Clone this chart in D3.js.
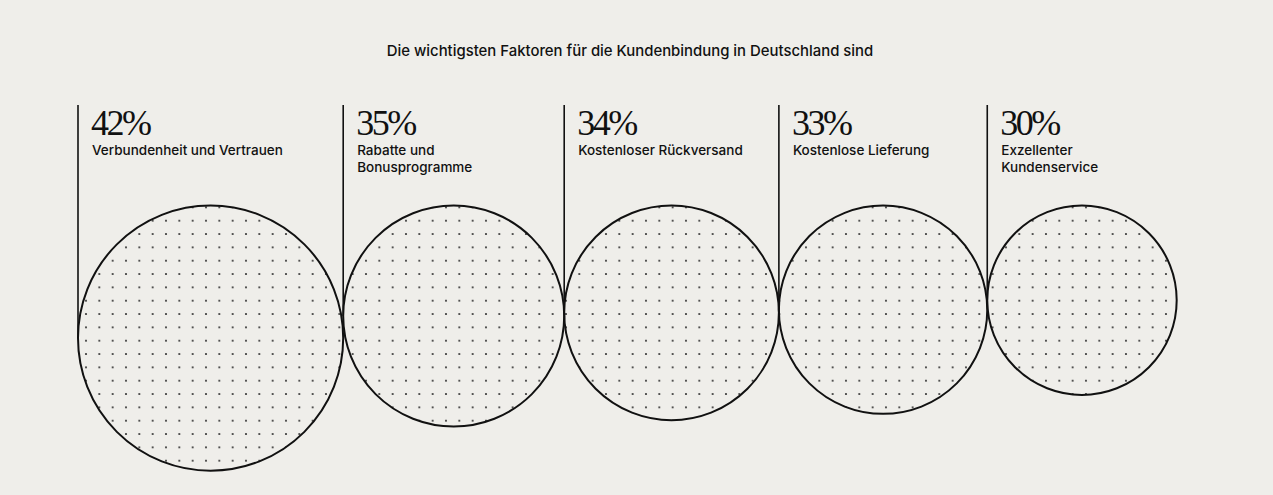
<!DOCTYPE html>
<html>
<head>
<meta charset="utf-8">
<script src="https://cdn.jsdelivr.net/npm/d3@7"></script>
<style>
  html, body { margin: 0; padding: 0; background: #efeeea; }
  svg { display: block; }
</style>
</head>
<body>
<svg id="chart" width="1273" height="495"></svg>
<script>
const title = "Die wichtigsten Faktoren für die Kundenbindung in Deutschland sind";
const categories = [
  ["Verbundenheit und Vertrauen"],
  ["Rabatte und", "Bonusprogramme"],
  ["Kostenloser Rückversand"],
  ["Kostenlose Lieferung"],
  ["Exzellenter", "Kundenservice"]
];
const values = [42, 35, 34, 33, 30];
const valueLabels = ["42%", "35%", "34%", "33%", "30%"];

const W = 1273, H = 495;
const svg = d3.select("#chart");
svg.append("rect").attr("width", W).attr("height", H).attr("fill", "#efeeea");

const startX = 78, circleTop = 205.5, lineTop = 105;
const rScale = d3.scaleLinear().domain([0, 42]).range([0, 132.6]);

// dot pattern
const sp = 13.333;
const defs = svg.append("defs");
const pat = defs.append("pattern")
  .attr("id", "dots")
  .attr("patternUnits", "userSpaceOnUse")
  .attr("width", sp).attr("height", sp)
  .attr("x", 86 - sp / 2).attr("y", 220.7 - sp / 2);
pat.append("circle").attr("cx", sp / 2).attr("cy", sp / 2).attr("r", 1.05).attr("fill", "#2a2a2a");

// title
svg.append("text")
  .attr("x", 630).attr("y", 56.3)
  .attr("text-anchor", "middle")
  .attr("font-family", "Inter, 'Noto Sans', sans-serif")
  .attr("font-weight", 500)
  .attr("font-size", 14.9)
  .attr("fill", "#111")
  .text(title);

// layout
let x = startX;
const data = values.map((v, i) => {
  const r = rScale(v);
  const d = { v, r, left: x, cx: x + r, cy: circleTop + r, label: categories[i], pct: valueLabels[i] };
  x += 2 * r;
  return d;
});

const g = svg.selectAll("g.item").data(data).join("g").attr("class", "item");

g.append("circle")
  .attr("cx", d => d.cx).attr("cy", d => d.cy).attr("r", d => d.r)
  .attr("fill", "url(#dots)")
  .attr("stroke", "#111").attr("stroke-width", 2);

g.append("line")
  .attr("x1", d => d.left).attr("x2", d => d.left)
  .attr("y1", lineTop).attr("y2", d => d.cy)
  .attr("stroke", "#111").attr("stroke-width", 1.6);

g.append("text")
  .attr("x", d => d.left + 13).attr("y", 135)
  .attr("font-family", "'Liberation Serif', 'DejaVu Serif', serif")
  .attr("font-size", 36)
  .attr("letter-spacing", -2.5)
  .attr("fill", "#111")
  .text(d => d.pct);

g.each(function(d) {
  const t = d3.select(this).append("text")
    .attr("font-family", "Inter, 'Noto Sans', sans-serif")
    .attr("font-weight", 500)
    .attr("font-size", 13.5)
    .attr("fill", "#111");
  d.label.forEach((line, j) => {
    t.append("tspan").attr("x", d.left + 14).attr("y", 155 + j * 16.5).text(line);
  });
});
</script>
</body>
</html>
